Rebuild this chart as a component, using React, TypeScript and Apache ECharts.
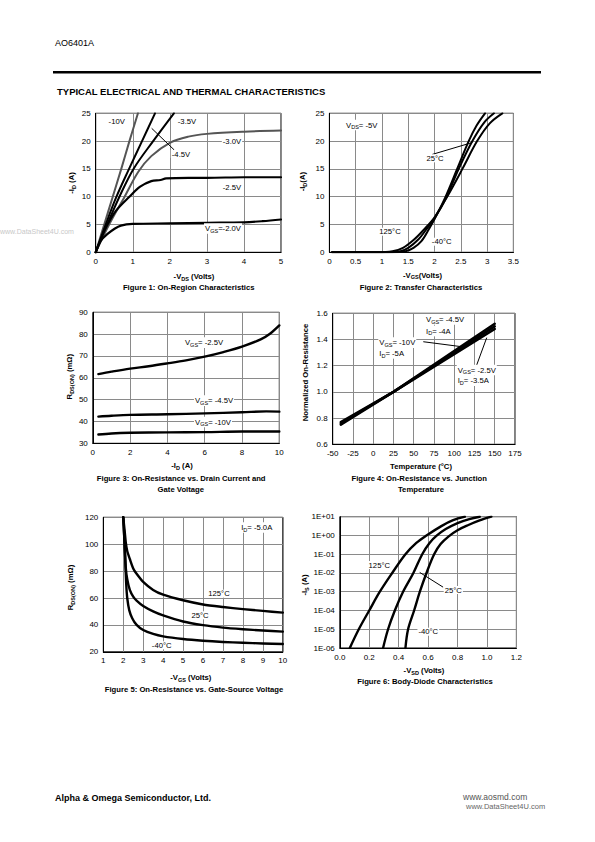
import React, { useEffect, useRef } from "react";
import * as echarts from "echarts";

const FONT = '"Liberation Sans", Arial, Helvetica, sans-serif';

// ---------- Figure 1: On-Region Characteristics (x: -VDS, y: -ID) ----------
const f1Vgs10 = [[0, 0], [0.23, 5], [0.46, 10], [0.69, 15], [0.91, 20], [1.14, 25]];
const f1Vgs45 = [[0, 0], [0.27, 5], [0.56, 10], [0.9, 15], [1.25, 20], [1.6, 25]];
const f1Vgs35 = [[0, 0], [0.31, 5], [0.64, 10], [1.02, 15], [1.55, 20], [2.11, 25]];
const f1Vgs30 = [[0, 0], [0.38, 5.2], [0.78, 10], [1.15, 14.5], [1.5, 17.3], [2, 19.7], [2.5, 20.8], [3, 21.3], [4, 21.7], [5, 21.9]];
const f1Vgs25 = [[0, 0], [0.15, 2.5], [0.32, 5], [0.55, 7.5], [0.91, 10], [1.2, 11.8], [1.5, 12.8], [1.75, 13], [1.9, 13.3], [2.5, 13.4], [3, 13.4], [4, 13.5], [5, 13.5]];
const f1Vgs20 = [[0, 0], [0.14, 2.1], [0.32, 3.3], [0.5, 4.2], [0.68, 4.8], [1.0, 5.1], [2, 5.2], [3, 5.3], [4, 5.4], [4.5, 5.6], [5, 5.9]];
const f1Arrow = [[2.12, 18.4], [1.51, 22.3]];

// ---------- Figure 2: Transfer Characteristics (x: -VGS, y: -ID) ----------
const f2Tm40 = [[0.05, 0], [1.2, 0], [1.45, 0.2], [1.6, 0.8], [1.75, 2.0], [1.9, 4.3], [2.0, 6.0], [2.2, 9.8], [2.43, 15], [2.65, 20], [2.8, 22.8], [2.96, 25]];
const f2T25 = [[0.05, 0], [1.1, 0], [1.35, 0.2], [1.5, 0.8], [1.7, 2.4], [1.85, 4.2], [2.0, 6.1], [2.23, 10], [2.46, 15], [2.72, 20], [2.95, 23.4], [3.13, 25]];
const f2T125 = [[0.05, 0], [0.9, 0.02], [1.2, 0.2], [1.4, 0.8], [1.6, 2.2], [1.8, 4.1], [2.0, 6.3], [2.24, 10], [2.53, 15], [2.81, 20], [3.05, 23.2], [3.29, 25]];
const f2Arrow = [[1.955, 17.6], [2.72, 19.75]];

// ---------- Figure 3: RDS(ON) vs -ID ----------
const f3Vgs25 = [[0.3, 61.7], [1, 62.8], [2, 64.2], [3, 65.3], [4, 66.6], [5, 68], [6, 69.7], [7, 71.8], [8, 74.3], [9, 77.6], [9.5, 80.2], [10, 84]];
const f3Vgs45 = [[0.3, 42.2], [1, 42.6], [2, 43], [4, 43.3], [6, 43.7], [8, 44.2], [9.3, 44.6], [10, 44.5]];
const f3Vgs10 = [[0.3, 34], [1, 34.5], [2, 34.8], [4, 35], [6, 35.1], [8, 35.4], [10, 35.4]];

// ---------- Figure 4: Normalized RDS(ON) vs Temperature ----------
const f4Vgs10 = [[-40, 0.76], [25, 1.0], [150, 1.5]];
const f4Vgs45 = [[-40, 0.75], [25, 1.0], [150, 1.52]];
const f4Vgs25 = [[-40, 0.77], [25, 1.0], [150, 1.48]];
const f4ArrowA = [[61.8, 1.383], [109.2, 1.345]];
const f4ArrowB = [[127.7, 1.205], [140.1, 1.414]];

// ---------- Figure 5: RDS(ON) vs -VGS ----------
const f5T125 = [[2.0, 120], [2.07, 110], [2.13, 101], [2.2, 95], [2.33, 89], [2.5, 82], [2.67, 78], [3, 72], [3.5, 66], [4, 62.5], [5, 58.3], [6, 55.2], [7, 53.3], [8, 51.7], [9, 50.4], [10, 49.1]];
const f5T25 = [[2.0, 120], [2.07, 100], [2.13, 82], [2.2, 74], [2.33, 66], [2.5, 61], [2.67, 58], [3, 54], [3.5, 50], [4, 47], [5, 42.5], [6, 39.8], [7, 38], [8, 36.8], [9, 35.8], [10, 35]];
const f5Tm40 = [[2.0, 120], [2.05, 105], [2.1, 88], [2.15, 70], [2.2, 60], [2.3, 51], [2.45, 45], [2.67, 40], [3, 36.2], [3.5, 33.3], [4, 31.5], [5, 29.5], [6, 28.2], [7, 27.3], [8, 26.7], [9, 26.2], [10, 25.8]];

// ---------- Figure 6: Body-Diode (x: -VSD, y: -IS, log) ----------
const f6T125 = [[0.068, 1e-6], [0.129, 1e-5], [0.2, 1e-4], [0.272, 1e-3], [0.356, 1e-2], [0.446, 1e-1], [0.52, 0.4], [0.589, 1], [0.69, 3.16], [0.77, 6.5], [0.85, 10]];
const f6T25 = [[0.294, 1e-6], [0.328, 1e-5], [0.374, 1e-4], [0.43, 1e-3], [0.5, 1e-2], [0.56, 1e-1], [0.61, 0.4], [0.66, 1], [0.72, 2.2], [0.8, 4.6], [0.88, 7.5], [0.951, 10]];
const f6Tm40 = [[0.446, 1e-6], [0.464, 1e-5], [0.505, 1e-4], [0.544, 1e-3], [0.589, 1e-2], [0.641, 1e-1], [0.685, 0.35], [0.74, 0.9], [0.8, 1.9], [0.87, 3.5], [0.95, 6.3], [1.03, 10]];
const f6Arrow = [[0.702, 1.75e-3], [0.543, 1.07e-2]];

function axis(gi: number, min: number, max: number, interval: number, fmt?: any) {
  return {
    gridIndex: gi,
    type: "value",
    min,
    max,
    interval,
    axisLine: { show: true, onZero: false, lineStyle: { color: "#000", width: 1 } },
    axisTick: { show: false },
    splitLine: { show: true, lineStyle: { color: "#8a8a8a", width: 1 } },
    axisLabel: {
      color: "#000",
      fontSize: 8,
      fontFamily: FONT,
      margin: 5,
      formatter: fmt,
      showMinLabel: true,
      showMaxLabel: true,
    },
  };
}

function curve(gi: number, data: number[][], color = "#000", width = 2.2, extra: any = {}) {
  return {
    type: "line",
    xAxisIndex: gi,
    yAxisIndex: gi,
    data,
    symbol: "none",
    showSymbol: false,
    smooth: 0.35,
    silent: true,
    lineStyle: { color, width, join: "round", cap: "round" },
    z: 3,
    ...extra,
  };
}

function arrow(pts: number[][]) {
  return {
    markLine: {
      silent: true,
      symbol: ["none", "arrow"],
      symbolSize: [0, 6],
      lineStyle: { color: "#000", width: 1, type: "solid" },
      label: { show: false },
      data: [[{ coord: pts[0] }, { coord: pts[1] }]],
    },
  };
}

function T(x: number, y: number, text: string, o: any = {}) {
  const size = o.size ?? 7.7;
  const fw = o.bold ? "bold" : "normal";
  const fill = o.fill ?? "#000";
  const align = o.align ?? "center";
  const style: any = {
    text,
    fill,
    fontSize: size,
    fontFamily: FONT,
    fontWeight: fw,
    align,
    textAlign: align,
    verticalAlign: "middle",
    textVerticalAlign: "middle",
  };
  if (o.bg) {
    style.backgroundColor = "#fff";
    style.padding = [0, 1];
  }
  if (o.rich) {
    style.rich = {
      n: { fontSize: size, fontFamily: FONT, fontWeight: fw, fill, lineHeight: size + 3 },
      s: { fontSize: size * 0.72, fontFamily: FONT, fontWeight: fw, fill, verticalAlign: "bottom", lineHeight: size * 0.72 + 1 },
    };
  }
  return { type: "text", x, y, rotation: o.rot ? Math.PI / 2 : 0, z: 100, silent: true, style };
}

export default function App() {
  const ref = useRef<HTMLDivElement>(null);
  useEffect(() => {
    if (!ref.current) return;
    const chart = echarts.init(ref.current, null, { renderer: "svg" });
    const gridBase = { show: true, borderColor: "#000", borderWidth: 1, backgroundColor: "transparent", containLabel: false, outerBoundsMode: "none" };
    const expFmt = (v: number) => {
      const e = Math.round(Math.log10(v));
      return "1E" + (e < 0 ? "-" : "+") + String(Math.abs(e)).padStart(2, "0");
    };
    const logY = {
      gridIndex: 5,
      type: "log",
      logBase: 10,
      min: 1e-6,
      max: 10,
      axisLine: { show: true, onZero: false, lineStyle: { color: "#000", width: 1 } },
      axisTick: { show: false },
      splitLine: { show: true, lineStyle: { color: "#8a8a8a", width: 1 } },
      minorSplitLine: { show: false },
      axisLabel: { color: "#000", fontSize: 8, fontFamily: FONT, margin: 5, formatter: expFmt, showMinLabel: true, showMaxLabel: true },
    };
    const fix1 = (v: number) => v.toFixed(1);
    const gray = "#555";

    const option: any = {
      animation: false,
      backgroundColor: "#fff",
      grid: [
        { ...gridBase, left: 95.7, top: 113.3, width: 185.3, height: 139 },
        { ...gridBase, left: 329.4, top: 113.3, width: 184, height: 139 },
        { ...gridBase, left: 92.8, top: 312.3, width: 186.5, height: 131 },
        { ...gridBase, left: 332.7, top: 313.3, width: 182.3, height: 131 },
        { ...gridBase, left: 103.3, top: 517.3, width: 179.5, height: 134.5 },
        { ...gridBase, left: 339.8, top: 516.7, width: 176.6, height: 131.3 },
      ],
      xAxis: [
        axis(0, 0, 5, 1),
        axis(1, 0, 3.5, 0.5),
        axis(2, 0, 10, 2),
        axis(3, -50, 175, 25),
        axis(4, 1, 10, 1),
        axis(5, 0, 1.2, 0.2, fix1),
      ],
      yAxis: [
        axis(0, 0, 25, 5),
        axis(1, 0, 25, 5),
        axis(2, 30, 90, 10),
        axis(3, 0.6, 1.6, 0.2, fix1),
        axis(4, 20, 120, 20),
        logY,
      ],
      series: [
        curve(0, f1Vgs10, gray, 2),
        curve(0, f1Vgs45, "#000", 2, arrow(f1Arrow)),
        curve(0, f1Vgs35, "#000", 2),
        curve(0, f1Vgs30, gray, 2),
        curve(0, f1Vgs25, "#000", 2.2),
        curve(0, f1Vgs20, "#000", 2.2),

        curve(1, f2Tm40, "#000", 2),
        curve(1, f2T25, "#000", 2, arrow(f2Arrow)),
        curve(1, f2T125, "#000", 2),

        curve(2, f3Vgs25, "#000", 2.4),
        curve(2, f3Vgs45, "#000", 2.4),
        curve(2, f3Vgs10, "#000", 2.4),

        curve(3, f4Vgs10, "#000", 2.5, { smooth: false, ...arrow(f4ArrowA) }),
        curve(3, f4Vgs45, "#000", 2.5, { smooth: false, ...arrow(f4ArrowB) }),
        curve(3, f4Vgs25, "#000", 2.5, { smooth: false }),

        curve(4, f5T125, "#000", 2.4, { smooth: 0.25 }),
        curve(4, f5T25, "#000", 2.4, { smooth: 0.25 }),
        curve(4, f5Tm40, "#000", 2.4, { smooth: 0.25 }),

        curve(5, f6T125, "#000", 2.4),
        curve(5, f6T25, "#000", 2.4, arrow(f6Arrow)),
        curve(5, f6Tm40, "#000", 2.4),
      ],
      graphic: {
        elements: [
          // header / footer
          T(55, 42.5, "AO6401A", { align: "left", size: 9 }),
          { type: "rect", z: 100, silent: true, shape: { x: 53, y: 71, width: 488, height: 2.5 }, style: { fill: "#000" } },
          T(57, 91.5, "TYPICAL ELECTRICAL AND THERMAL CHARACTERISTICS", { align: "left", size: 9.5, bold: true }),
          T(0, 231, "www.DataSheet4U.com", { align: "left", size: 7, fill: "#c8c8c8" }),
          T(55, 797.5, "Alpha & Omega Semiconductor, Ltd.", { align: "left", size: 9, bold: true }),
          T(463, 797, "www.aosmd.com", { align: "left", size: 8.5, fill: "#555" }),
          T(466, 806, "www.DataSheet4U.com", { align: "left", size: 7.5, fill: "#666" }),

          // Figure 1
          T(116.7, 121.5, "-10V", { bg: true }),
          T(187, 121.5, "-3.5V", { bg: true }),
          T(181, 154, "-4.5V", { bg: true }),
          T(232, 141.5, "-3.0V", { bg: true }),
          T(232, 187.5, "-2.5V", { bg: true }),
          T(223, 228.5, "{n|V}{s|GS}{n|=-2.0V}", { bg: true, rich: true }),
          T(194, 276.7, "{n|-V}{s|DS}{n| (Volts)}", { bold: true, rich: true }),
          T(71.7, 183, "{n|-I}{s|D}{n| (A)}", { bold: true, rich: true, rot: true }),
          T(188.7, 287.3, "Figure 1: On-Region Characteristics", { bold: true }),

          // Figure 2
          T(361.7, 125, "{n|V}{s|DS}{n|= -5V}", { bg: true, rich: true }),
          T(435, 158.3, "25°C", { bg: true }),
          T(390, 231.7, "125°C", { bg: true }),
          T(441.7, 241.7, "-40°C", { bg: true }),
          T(422.5, 275, "{n|-V}{s|GS}{n|(Volts)}", { bold: true, rich: true }),
          T(302.3, 181.7, "{n|-I}{s|D}{n|(A)}", { bold: true, rich: true, rot: true }),
          T(421, 287.7, "Figure 2: Transfer Characteristics", { bold: true }),

          // Figure 3
          T(204, 342.7, "{n|V}{s|GS}{n|= -2.5V}", { bg: true, rich: true }),
          T(214, 400.7, "{n|V}{s|GS}{n|= -4.5V}", { bg: true, rich: true }),
          T(213, 422, "{n|V}{s|GS}{n|= -10V}", { bg: true, rich: true }),
          T(182, 465.7, "{n|-I}{s|D}{n| (A)}", { bold: true, rich: true }),
          T(69.3, 376.7, "{n|R}{s|DS(ON)}{n| (mΩ)}", { bold: true, rich: true, rot: true }),
          T(181.2, 478.3, "Figure 3: On-Resistance vs. Drain Current and", { bold: true }),
          T(180.8, 489, "Gate Voltage", { bold: true }),

          // Figure 4
          T(425, 319.3, "{n|V}{s|GS}{n|= -4.5V}", { bg: true, rich: true, align: "left" }),
          T(425, 331, "{n|I}{s|D}{n|= -4A}", { bg: true, rich: true, align: "left" }),
          T(378.3, 342.7, "{n|V}{s|GS}{n|= -10V}", { bg: true, rich: true, align: "left" }),
          T(378.3, 353.3, "{n|I}{s|D}{n|= -5A}", { bg: true, rich: true, align: "left" }),
          T(456.7, 370, "{n|V}{s|GS}{n|= -2.5V}", { bg: true, rich: true, align: "left" }),
          T(456.7, 380.7, "{n|I}{s|D}{n|= -3.5A}", { bg: true, rich: true, align: "left" }),
          T(421, 466.7, "Temperature (°C)", { bold: true }),
          T(305, 372.5, "Normalized On-Resistance", { bold: true, rot: true }),
          T(419.2, 478.3, "Figure 4: On-Resistance vs. Junction", { bold: true }),
          T(421, 489, "Temperature", { bold: true }),

          // Figure 5
          T(256.7, 527.5, "{n|I}{s|D}{n|= -5.0A}", { bg: true, rich: true }),
          T(219, 593.7, "125°C", { bg: true }),
          T(200, 615.3, "25°C", { bg: true }),
          T(161.7, 645.3, "-40°C", { bg: true }),
          T(190.8, 677.7, "{n|-V}{s|GS}{n| (Volts)}", { bold: true, rich: true }),
          T(70.7, 587.5, "{n|R}{s|DS(ON)}{n| (mΩ)}", { bold: true, rich: true, rot: true }),
          T(194, 689.3, "Figure 5: On-Resistance vs. Gate-Source Voltage", { bold: true }),

          // Figure 6
          T(379.3, 565, "125°C", { bg: true }),
          T(453.3, 590, "25°C", { bg: true }),
          T(428.3, 631.7, "-40°C", { bg: true }),
          T(424, 670.7, "{n|-V}{s|SD}{n| (Volts)}", { bold: true, rich: true }),
          T(304.3, 585, "{n|-I}{s|S}{n| (A)}", { bold: true, rich: true, rot: true }),
          T(425, 681.7, "Figure 6: Body-Diode Characteristics", { bold: true }),
        ],
      },
    };
    chart.setOption(option);
    return () => chart.dispose();
  }, []);
  return (
    <div
      ref={ref}
      style={{ position: "absolute", left: 0, top: 0, width: 595, height: 842, background: "#fff" }}
    />
  );
}
